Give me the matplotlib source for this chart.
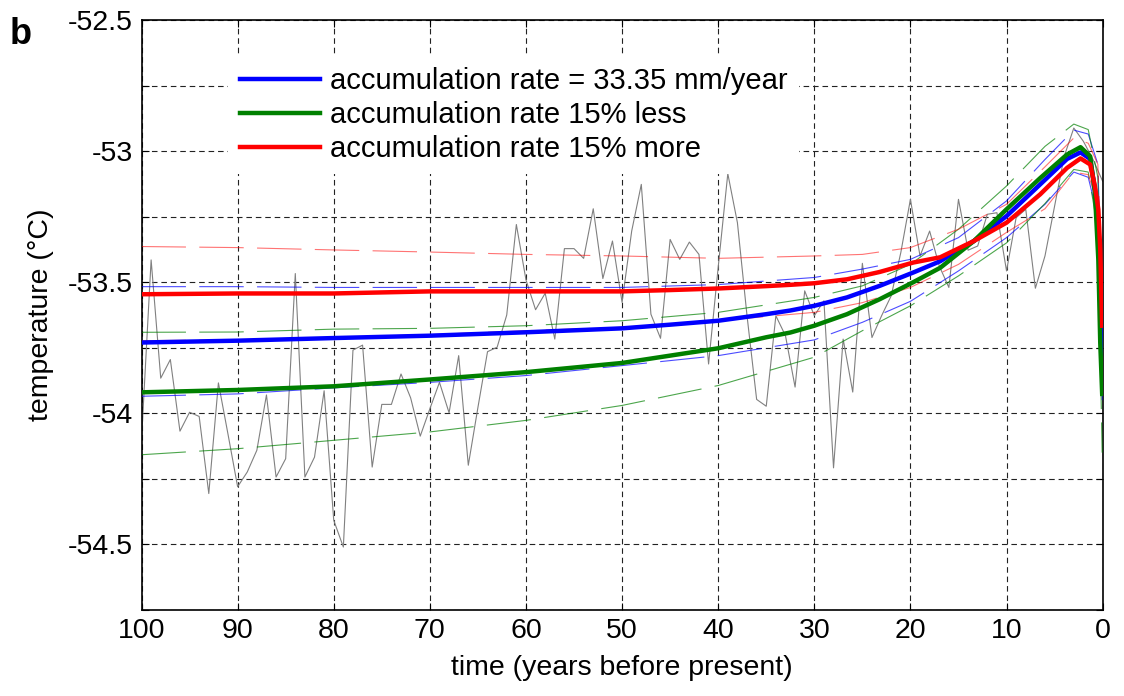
import numpy as np
import matplotlib.pyplot as plt
from matplotlib.ticker import MultipleLocator, FuncFormatter

plt.rcParams['font.family'] = ['Liberation Sans', 'DejaVu Sans']

# measured temperature, one value per year (years before present)
obs_years = np.arange(100, -1, -1)
obs_temp = [
    -54.10, -53.415, -53.866, -53.795, -54.068, -53.996, -54.012, -54.306, -53.884, -54.08,
    -54.28, -54.224, -54.141, -53.93, -54.243, -54.173, -53.467, -54.243, -54.167, -53.914,
    -54.408, -54.51, -53.759, -53.74, -54.205, -53.966, -53.966, -53.85, -53.941, -54.087,
    -53.983, -53.882, -53.998, -53.78, -54.198, -53.978, -53.765, -53.748, -53.625, -53.28,
    -53.491, -53.605, -53.542, -53.717, -53.372, -53.372, -53.409, -53.22, -53.486, -53.343,
    -53.577, -53.305, -53.127, -53.622, -53.714, -53.337, -53.413, -53.347, -53.394, -53.812,
    -53.443, -53.086, -53.273, -53.628, -53.947, -53.973, -53.628, -53.704, -53.90, -53.533,
    -53.628, -53.571, -54.208, -53.717, -53.919, -53.428, -53.711, -53.628, -53.552, -53.387,
    -53.184, -53.40, -53.305, -53.438, -53.52, -53.184, -53.378, -53.362, -53.241, -53.235,
    -53.457, -53.254, -53.222, -53.523, -53.40, -53.21, -53.02, -52.912, -52.963, -53.032,
    -53.115,
]

# modelled firn temperature for three accumulation rates
model_years = [100, 90, 80, 70, 60, 50, 45, 40, 35, 32.5, 30, 26.6, 23.2, 19.7, 16.9, 13.4, 10, 6.5, 3.7,
               2.3, 1.3, 0.8, 0.45, 0.25, 0.05]
blue_mid = [-53.73, -53.723, -53.713, -53.704, -53.691, -53.676, -53.662, -53.647, -53.622, -53.608, -53.59,
            -53.558, -53.514, -53.463, -53.42, -53.343, -53.248, -53.127, -53.03, -53.005, -53.03, -53.146,
            -53.32, -53.539, -53.83]
green_mid = [-53.92, -53.911, -53.897, -53.871, -53.843, -53.808, -53.78, -53.752, -53.71, -53.692, -53.666,
             -53.622, -53.565, -53.50, -53.445, -53.343, -53.222, -53.103, -53.013, -52.985, -53.02, -53.159,
             -53.413, -53.73, -53.926]
red_mid = [-53.546, -53.543, -53.543, -53.535, -53.535, -53.535, -53.53, -53.524, -53.515, -53.51, -53.504,
           -53.489, -53.461, -53.425, -53.405, -53.343, -53.273, -53.165, -53.064, -53.028, -53.051, -53.134,
           -53.222, -53.374, -53.666]

# uncertainty envelopes (thin dashed)
band_years = [100, 90, 80, 70, 60, 50, 40, 30, 25, 20, 15, 10, 6, 3, 1.5, 0.5, 0.05]
blue_hi = [-53.517, -53.517, -53.52, -53.52, -53.52, -53.52, -53.509, -53.482, -53.45, -53.413, -53.33,
           -53.19, -53.032, -52.92, -52.935, -53.05, -53.6]
blue_lo = [-53.935, -53.926, -53.903, -53.882, -53.856, -53.818, -53.78, -53.72, -53.653, -53.573, -53.457,
           -53.33, -53.203, -53.08, -53.10, -53.25, -53.95]
green_hi = [-53.691, -53.69, -53.679, -53.676, -53.666, -53.647, -53.615, -53.558, -53.514, -53.432, -53.298,
            -53.133, -52.982, -52.897, -52.918, -53.10, -53.7]
green_lo = [-54.158, -54.135, -54.103, -54.071, -54.027, -53.97, -53.894, -53.786, -53.685, -53.59, -53.476,
            -53.35, -53.20, -53.07, -53.08, -53.30, -54.15]
red_hi = [-53.364, -53.368, -53.377, -53.385, -53.394, -53.40, -53.409, -53.40, -53.394, -53.368, -53.298,
          -53.203, -53.06, -52.95, -52.97, -53.05, -53.5]
red_lo = [-53.723, -53.72, -53.71, -53.70, -53.685, -53.672, -53.647, -53.615, -53.578, -53.52, -53.432,
          -53.31, -53.22, -53.08, -53.09, -53.20, -53.8]

labels = ['accumulation rate = 33.35 mm/year', 'accumulation rate 15% less', 'accumulation rate 15% more']

fig = plt.figure(figsize=(11.24, 6.96), dpi=100)
ax = fig.add_axes([0.1259, 0.1236, 0.8551, 0.8477])

ax.plot(obs_years, obs_temp, color='#808080', lw=0.8, zorder=2)

dash = (0, (40, 12))
for hi, lo, col, a in [(blue_hi, blue_lo, '#0000ff', 0.7), (green_hi, green_lo, '#008000', 0.7),
                       (red_hi, red_lo, '#ff0000', 0.55)]:
    ax.plot(band_years, hi, color=col, lw=0.8, ls=dash, alpha=a, zorder=3)
    ax.plot(band_years, lo, color=col, lw=0.8, ls=dash, alpha=a, zorder=3)

ax.plot(model_years, blue_mid, color='#0000ff', lw=3.2, label=labels[0], zorder=4)
ax.plot(model_years, green_mid, color='#008000', lw=3.2, label=labels[1], zorder=4)
ax.plot(model_years, red_mid, color='#ff0000', lw=3.2, label=labels[2], zorder=5)

ax.set_xlim(100, 0)
ax.set_ylim(-54.75, -52.5)
ax.xaxis.set_major_locator(MultipleLocator(10))
ax.yaxis.set_major_locator(MultipleLocator(0.25))
ax.yaxis.set_major_formatter(FuncFormatter(lambda v, p: '%g' % v if abs(v * 2 - round(v * 2)) < 1e-6 else ''))
ax.tick_params(direction='in', length=5, width=0.8, top=True, right=True, labelsize=20.5, pad=6)
ax.grid(True, color='#222222', lw=0.8, ls=(0, (5, 3.5)))
for s in ax.spines.values():
    s.set_linewidth(1.2)

ax.set_xlabel('time (years before present)', fontsize=20.5, labelpad=8)
ax.set_ylabel('temperature (°C)', fontsize=20.5, labelpad=10)

# white legend box without an edge hides the grid behind it
leg = ax.legend(loc='upper left', bbox_to_anchor=(0.09, 0.94), frameon=True, fancybox=False, fontsize=21,
                handlelength=2.75, handletextpad=0.35, labelspacing=0.2, borderpad=0.4, borderaxespad=0)
leg.get_frame().set_facecolor('white')
leg.get_frame().set_edgecolor('none')
leg.get_frame().set_alpha(1)

fig.text(0.009, 0.95, 'b', fontsize=26, fontweight='bold', va='center')

fig.savefig('out.png', dpi=100)
